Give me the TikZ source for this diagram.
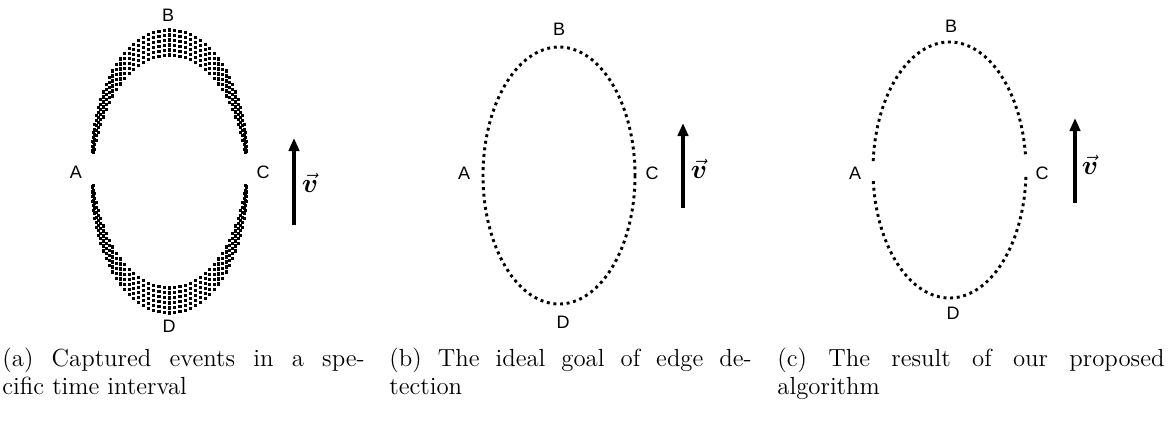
\documentclass[tikz,border=0pt]{standalone}
\usepackage{amsmath,bm}
\usepackage{fontspec}
\newfontfamily\labfont{Liberation Sans}
\usetikzlibrary{arrows.meta}
\tikzset{
  lab/.style={font=\labfont\fontsize{8}{9}\selectfont, inner sep=0pt},
  vlab/.style={font=\fontsize{13}{15}\selectfont, inner sep=0pt},
  motion/.style={line width=1.5pt, -{Triangle[length=5.8pt,width=4.6pt]}},
  dotline/.style={line width=1.3pt, dash pattern=on 1.3pt off 1.65pt},
  captext/.style={anchor=base west, inner sep=0pt, font=\fontsize{11}{13}\selectfont},
}
\begin{document}
\begin{tikzpicture}[x=0.4444pt, y=-0.4444pt]
\useasboundingbox (0,0) rectangle (1174,437);

% ---------- panel (a): captured events (edge swept upwards) ----------
\foreach \s in {0,...,5}{
  \foreach \k in {0,...,91}{
    \pgfmathsetmacro\ang{\k*3.91304}
    \pgfmathsetmacro\xx{169.5+77.5*cos(\ang)}
    \pgfmathsetmacro\yy{171.5-12.5+\s*5+129*sin(\ang)}
    \pgfmathtruncatemacro\ok{abs(\yy-169)>=16}
    \ifnum\ok=1 \fill (\xx-1.6,\yy-1.6) rectangle ++(3.2,3.2); \fi
  }
}
\node[lab] (aA) at (76,172) {A};
\node[lab] (aB) at (168,15) {B};
\node[lab] (aC) at (263,172) {C};
\node[lab] (aD) at (169,326) {D};
\coordinate (va1) at (294,225);
\coordinate (va2) at (294,138);
\draw[motion] (va1) -- (va2);
\node[vlab] (av) at (310,183) {$\vec{\bm v}$};

% ---------- panel (b): ideal edges ----------
\draw[dotline] plot[domain=0:360, samples=240] ({559+76*cos(\x)},{175.5+128.5*sin(\x)});
\node[lab] (bA) at (464,173) {A};
\node[lab] (bB) at (559,29) {B};
\node[lab] (bC) at (652,173) {C};
\node[lab] (bD) at (563,322) {D};
\coordinate (vb1) at (683,208);
\coordinate (vb2) at (683,123);
\draw[motion] (vb1) -- (vb2);
\node[vlab] (bv) at (699,169) {$\vec{\bm v}$};

% ---------- panel (c): proposed algorithm ----------
\draw[dotline] plot[domain=3.1:175.5, samples=160] ({949.5+76.5*cos(\x)},{170+128*sin(\x)});
\draw[dotline] plot[domain=184:354.6, samples=160] ({949.5+76.5*cos(\x)},{170+128*sin(\x)});
\node[lab] (cA) at (855,173) {A};
\node[lab] (cB) at (951,26) {B};
\node[lab] (cC) at (1042,173) {C};
\node[lab] (cD) at (953,313) {D};
\coordinate (vc1) at (1075,203);
\coordinate (vc2) at (1075,118);
\draw[motion] (vc1) -- (vc2);
\node[vlab] (cv) at (1090,165) {$\vec{\bm v}$};

% ---------- captions ----------
\node[captext] (capa1) at (2,366) {\makebox[161pt][s]{(a) Captured events in a spe-}};
\node[captext] (capa2) at (2,394) {cific time interval};
\node[captext] (capb1) at (389,366) {\makebox[161pt][s]{(b) The ideal goal of edge de-}};
\node[captext] (capb2) at (389,394) {tection};
\node[captext] (capc1) at (777,366) {\makebox[172pt][s]{(c) The result of our proposed}};
\node[captext] (capc2) at (777,394) {algorithm};
\end{tikzpicture}
\end{document}
